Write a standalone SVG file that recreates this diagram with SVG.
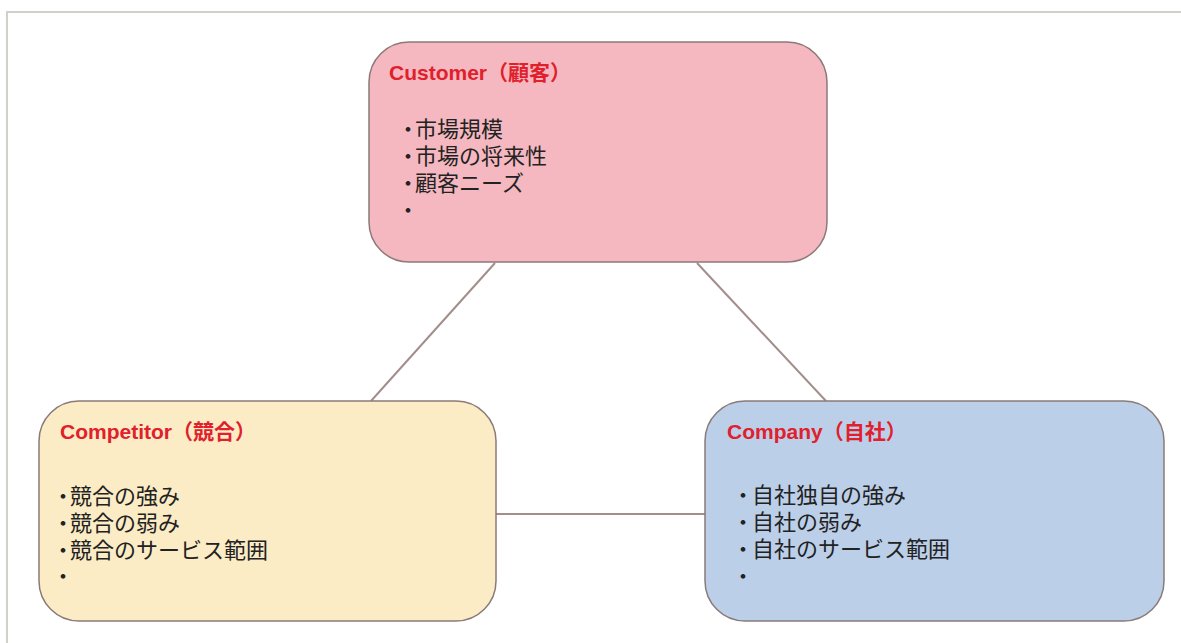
<svg xmlns="http://www.w3.org/2000/svg" width="1181" height="643" viewBox="0 0 1181 643">
<style>
.frame{stroke:#d3cfcb;stroke-width:2;fill:none}
.conn{stroke:#a38e8c;stroke-width:2;fill:none}
.box{stroke:#8a7a78;stroke-width:1.5}
.title{font-family:"Liberation Sans","Noto Sans CJK JP",sans-serif;font-weight:bold;font-size:21px;fill:#e0202c}
.item{font-family:"Liberation Sans","Noto Sans CJK JP",sans-serif;font-size:22px;fill:#222}
</style>
<rect width="1181" height="643" fill="#ffffff"/>
<path class="frame" d="M7,643 V12 H1181"/>
<g id="connectors">
<line class="conn" x1="495" y1="263" x2="371" y2="401"/>
<line class="conn" x1="697" y1="263" x2="826" y2="401"/>
<line class="conn" x1="496" y1="514" x2="705" y2="514"/>
</g>
<g id="customer">
<rect class="box" x="369" y="42" width="458" height="220" rx="40" fill="#f5b8c0"/>
<text class="title" x="389" y="80">Customer（顧客）</text>
<text class="item"><tspan x="397" y="137" dx="0 -4">・市場規模</tspan><tspan x="397" y="164" dx="0 -4">・市場の将来性</tspan><tspan x="397" y="191" dx="0 -4">・顧客ニーズ</tspan><tspan x="397" y="218">・</tspan></text>
</g>
<g id="competitor">
<rect class="box" x="39" y="401" width="457" height="220" rx="40" fill="#fbecc5"/>
<text class="title" x="60" y="439">Competitor（競合）</text>
<text class="item"><tspan x="52" y="504" dx="0 -4">・競合の強み</tspan><tspan x="52" y="531" dx="0 -4">・競合の弱み</tspan><tspan x="52" y="558" dx="0 -4">・競合のサービス範囲</tspan><tspan x="52" y="584">・</tspan></text>
</g>
<g id="company">
<rect class="box" x="705" y="401" width="459" height="220" rx="40" fill="#bccfe9"/>
<text class="title" x="727" y="439">Company（自社）</text>
<text class="item"><tspan x="732" y="503" dx="0 -2">・自社独自の強み</tspan><tspan x="732" y="530" dx="0 -2">・自社の弱み</tspan><tspan x="732" y="557" dx="0 -2">・自社のサービス範囲</tspan><tspan x="732" y="584">・</tspan></text>
</g>
</svg>
